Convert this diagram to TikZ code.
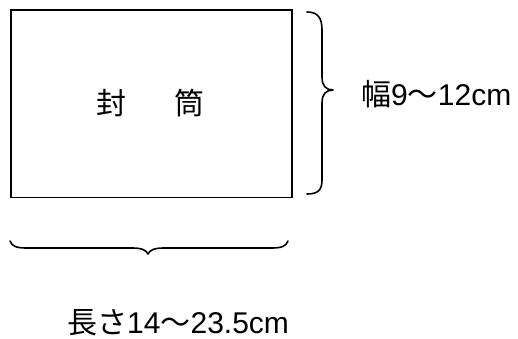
\documentclass[tikz,border=0pt]{standalone}
\usepackage{fontspec}
\setmainfont{Liberation Sans}
\newfontfamily\jp{Noto Sans CJK JP}
\begin{document}
\begin{tikzpicture}[x=1pt,y=-1pt,
  line/.style={line width=1.6pt,line join=round,line cap=round},
  lbl/.style={inner sep=0pt,font=\fontsize{30}{34}\selectfont}]
\useasboundingbox (0,0) rectangle (518,339);
\node[draw,line width=1.8pt,minimum width=281pt,minimum height=187pt,inner sep=0pt,anchor=north west] (env) at (10,9.5) {};
\node[lbl,font=\jp\fontsize{30}{34}\selectfont] (title) at (150,103) {封\hspace{48pt}筒};
\draw[line] (307,12) .. controls (318,12) and (322,18) .. (322,30) -- (322,77)
  .. controls (322,86) and (326,90) .. (333,90)
  .. controls (326,90) and (322,94) .. (322,103) -- (322,180)
  .. controls (322,190) and (318,194) .. (307,194);
\draw[line] (10,241) .. controls (12,246) and (16,248) .. (26,248) -- (132,248)
  .. controls (142,248) and (146,250) .. (148,254)
  .. controls (150,250) and (154,248) .. (164,248) -- (272,248)
  .. controls (282,248) and (286,246) .. (288,241);
\node[lbl,anchor=west] (width) at (361,94) {{\jp 幅}9{\jp ～}12cm};
\node[lbl,anchor=west] (length) at (67,323) {{\jp 長さ}14{\jp ～}23.5cm};
\end{tikzpicture}
\end{document}
